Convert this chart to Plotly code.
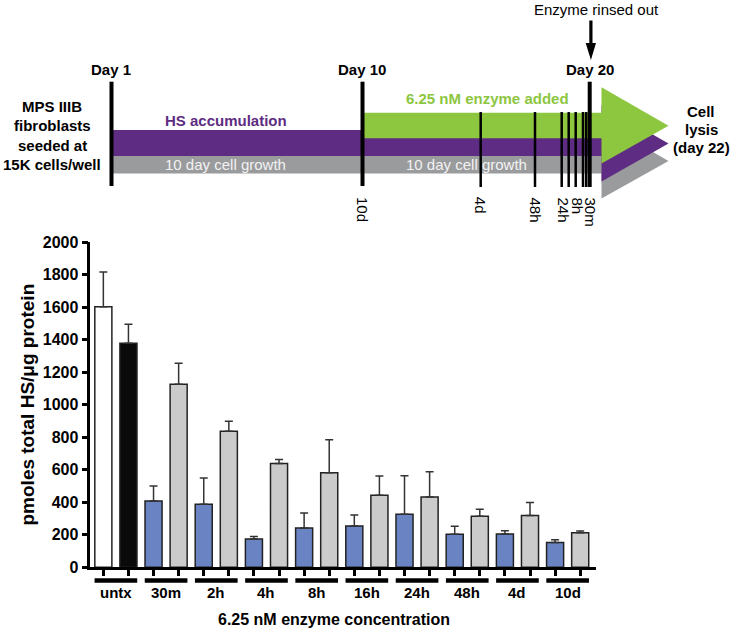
import plotly.graph_objects as go

# ---------------- data ----------------
groups = ["untx", "30m", "2h", "4h", "8h", "16h", "24h", "48h", "4d", "10d"]
means = [1604, 1378, 408, 1126, 388, 837, 174, 638, 242, 582,
         254, 443, 326, 433, 203, 314, 205, 318, 152, 213]
sems = [213, 117, 92, 129, 162, 61, 16, 26, 92, 203,
        68, 119, 238, 155, 49, 43, 20, 80, 18, 10]
bar_colors = ["#ffffff", "#0a0a0a"] + ["#6983C3", "#CBCBCB"] * 9
y_ticks = [0, 200, 400, 600, 800, 1000, 1200, 1400, 1600, 1800, 2000]

W, H = 733, 631
FONT = "Liberation Sans, Arial, sans-serif"


def px(x):
    return x / W


def py(y):
    return 1 - y / H


fig = go.Figure()
fig.add_trace(go.Bar(
    x=list(range(len(means))), y=means, width=0.68,
    marker=dict(color=bar_colors, line=dict(color="#222222", width=1.5)),
    error_y=dict(type="data", symmetric=False, array=sems,
                 arrayminus=[0] * len(sems), color="#333333",
                 thickness=1.5, width=4),
    showlegend=False, hoverinfo="skip",
))

shapes = []
ann = []

# group underline bars and labels
for gi, g in enumerate(groups):
    i0 = gi * 2
    shapes.append(dict(type="rect", xref="x", yref="paper",
                       x0=i0 - 0.35, x1=i0 + 1.35, y0=py(582.7), y1=py(578.3),
                       fillcolor="black", line=dict(width=0)))
    ann.append(dict(xref="x", yref="paper", x=i0 + 0.5, y=py(592.5),
                    text=g, showarrow=False, xanchor="center", yanchor="middle",
                    font=dict(family=FONT, size=15, color="black", weight="bold")))

ann.append(dict(xref="paper", yref="paper", x=px(333.5), y=py(619),
                text="6.25 nM enzyme concentration", showarrow=False,
                xanchor="center", yanchor="middle",
                font=dict(family=FONT, size=16, color="black", weight="bold")))
ann.append(dict(xref="paper", yref="paper", x=px(26.5), y=py(405),
                text="pmoles total HS/\u03bcg protein", showarrow=False, textangle=-90,
                xanchor="center", yanchor="middle",
                font=dict(family=FONT, size=19, color="black", weight="bold")))

# ---------------- timeline diagram ----------------
GREEN = "#8DC63F"
PURPLE = "#5E2C82"
GRAYB = "#9A9B9D"


def poly(pts, color):
    d = "M " + " L ".join(f"{px(a)},{py(b)}" for a, b in pts) + " Z"
    return dict(type="path", xref="paper", yref="paper", path=d,
                fillcolor=color, line=dict(width=0))


def rect(x0, y0, x1, y1, color):
    return dict(type="rect", xref="paper", yref="paper", x0=px(x0), x1=px(x1),
                y0=py(y1), y1=py(y0), fillcolor=color, line=dict(width=0))


shapes.append(poly([(601.5, 122.3), (601.5, 198.5), (668.5, 161)], GRAYB))
shapes.append(rect(111, 155.7, 602, 173.5, GRAYB))
shapes.append(poly([(601.5, 105.3), (601.5, 181.5), (668.5, 143.5)], PURPLE))
shapes.append(rect(111, 130, 602, 156, PURPLE))
shapes.append(poly([(601.5, 87.3), (601.5, 163.5), (668.5, 125.8)], GREEN))
shapes.append(rect(362, 112.7, 602, 138.3, GREEN))


def vline(x, y0, y1, w):
    return dict(type="line", xref="paper", yref="paper", x0=px(x), x1=px(x),
                y0=py(y0), y1=py(y1), line=dict(color="black", width=w))


shapes.append(vline(111.5, 81.7, 186, 4))
shapes.append(vline(362.5, 81.7, 186, 4))
for xv in [480.7, 535, 561.7, 568.7, 575.7, 583, 586.2]:
    shapes.append(vline(xv, 112, 187, 2.5))
shapes.append(vline(589.7, 81.7, 187, 4))

# rinse arrow
shapes.append(rect(589.3, 20.5, 592.5, 44, "black"))
shapes.append(poly([(585.7, 43), (596, 43), (590.9, 60)], "black"))


def txt(x, y, s, size=15, bold=True, color="black", angle=0, xa="center", ya="middle"):
    d = dict(xref="paper", yref="paper", x=px(x), y=py(y), text=s, showarrow=False,
             xanchor=xa, yanchor=ya, textangle=angle,
             font=dict(family=FONT, size=size, color=color,
                       weight="bold" if bold else "normal"))
    ann.append(d)


txt(111, 70, "Day 1")
txt(362, 70, "Day 10")
txt(589.5, 70, "Day 20")
txt(596, 9, "Enzyme rinsed out", bold=False)
for s, yy in zip(["MPS IIIB", "fibroblasts", "seeded at", "15K cells/well"],
                 [106.7, 126, 145, 164.3]):
    txt(52, yy, s)
for s, yy in zip(["Cell", "lysis", "(day 22)"], [111.7, 129.5, 147]):
    txt(701, yy, s)
txt(226.5, 120, "HS accumulation", color=PURPLE)
txt(487, 98.5, "6.25 nM enzyme added", color=GREEN)
txt(225.5, 164.5, "10 day cell growth", bold=False, color="#F2F2F2")
txt(466.5, 164.5, "10 day cell growth", bold=False, color="#F2F2F2")
for s, xv in [("10d", 362.5), ("4d", 480.7), ("48h", 535), ("24h", 563),
              ("8h", 577), ("30m", 590)]:
    txt(xv, 195, s, bold=False, angle=90, ya="top")

fig.update_layout(
    width=W, height=H, autosize=False, margin=dict(l=0, r=0, t=0, b=0, pad=0),
    paper_bgcolor="white", plot_bgcolor="white",
    shapes=shapes, annotations=ann,
    xaxis=dict(domain=[px(90.3), px(596)], range=[-0.52, 19.63], automargin=False,
               tickvals=list(range(len(means))), showticklabels=False,
               ticks="outside", ticklen=6, tickwidth=2.5, tickcolor="black",
               showline=True, linewidth=2.5, linecolor="black",
               showgrid=False, zeroline=False, fixedrange=True),
    yaxis=dict(domain=[py(567.3), py(242.3)], range=[0, 2000], automargin=False,
               tickvals=y_ticks, ticks="outside", ticklen=6, tickwidth=2.5,
               tickcolor="black", showline=True, linewidth=2.5, linecolor="black",
               showgrid=False, zeroline=False, fixedrange=True,
               tickfont=dict(family=FONT, size=16, color="black", weight="bold")),
    font=dict(family=FONT),
)

fig.write_html(
    "out.html",
    config={"responsive": False, "displayModeBar": False},
    post_script="document.body.style.margin='0';document.body.style.overflow='hidden';",
)
